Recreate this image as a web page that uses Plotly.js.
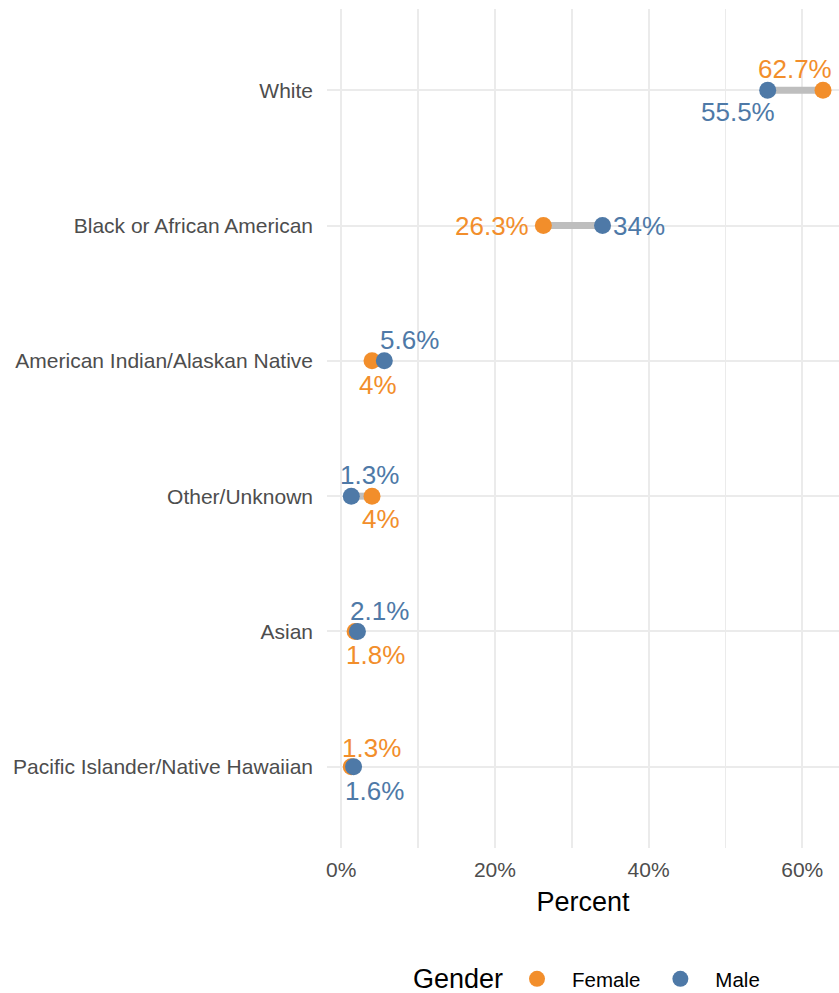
<!DOCTYPE html>
<html>
<head>
<meta charset="utf-8">
<script src="https://cdn.plot.ly/plotly-3.0.1.min.js"></script>
<style>html,body{margin:0;padding:0;background:#fff;}#chart{width:839px;height:993px;}</style>
</head>
<body>
<div id="chart"></div>
<script>
// Data (top to bottom)
const categories = ["White", "Black or African American", "American Indian/Alaskan Native", "Other/Unknown", "Asian", "Pacific Islander/Native Hawaiian"];
const female = [62.7, 26.3, 4, 4, 1.8, 1.3];
const male = [55.5, 34, 5.6, 1.3, 2.1, 1.6];
const femaleLabels = ["62.7%", "26.3%", "4%", "4%", "1.8%", "1.3%"];
const maleLabels = ["55.5%", "34%", "5.6%", "1.3%", "2.1%", "1.6%"];
const xTickVals = [0, 20, 40, 60];
const xTickText = ["0%", "20%", "40%", "60%"];
const legendTitle = "Gender";

// label offsets in px (position styling)
const femaleOffsets = [[-28, 21], [-51, 0], [6, -24], [9, -23], [20, -24], [20, 19]];
const maleOffsets = [[-30, -22], [36, 0], [25, 21], [18, 21], [22, 20], [21, -24]];

const ORANGE = "#F28E2B", BLUE = "#4E79A7";
const FONT = "Liberation Sans, Arial, sans-serif";

const segX = [], segY = [];
categories.forEach((c, i) => { segX.push(female[i], male[i], null); segY.push(c, c, null); });

const traces = [
  {x: segX, y: segY, type: "scatter", mode: "lines", line: {color: "#BEBEBE", width: 7}, showlegend: false, hoverinfo: "skip"},
  {x: female, y: categories, type: "scatter", mode: "markers", name: "Female", marker: {color: ORANGE, size: 17}},
  {x: male, y: categories, type: "scatter", mode: "markers", name: "Male", marker: {color: BLUE, size: 17}}
];

const annotations = [];
categories.forEach((c, i) => {
  annotations.push({x: female[i], y: c, xref: "x", yref: "y", text: femaleLabels[i], showarrow: false,
    xshift: femaleOffsets[i][0], yshift: femaleOffsets[i][1], font: {family: FONT, size: 26, color: ORANGE}});
  annotations.push({x: male[i], y: c, xref: "x", yref: "y", text: maleLabels[i], showarrow: false,
    xshift: maleOffsets[i][0], yshift: maleOffsets[i][1], font: {family: FONT, size: 26, color: BLUE}});
});
annotations.push({x: 0.2568, y: -0.1561, xref: "paper", yref: "paper", xanchor: "center", yanchor: "middle",
  text: legendTitle, showarrow: false, font: {family: FONT, size: 27, color: "#000"}});

const layout = {
  width: 839, height: 993,
  margin: {l: 327, r: 0, t: 9, b: 145, autoexpand: false},
  paper_bgcolor: "#fff", plot_bgcolor: "#fff",
  font: {family: FONT, size: 21, color: "#4D4D4D"},
  xaxis: {
    range: [-1.86, 64.78], tickvals: xTickVals, ticktext: xTickText,
    showgrid: true, gridcolor: "#EBEBEB", gridwidth: 2, zeroline: false, showline: false, ticks: "",
    tickfont: {family: FONT, size: 21, color: "#4D4D4D"}, ticklabelstandoff: 7,
    minor: {tickvals: [10, 30, 50], showgrid: true, gridcolor: "#EBEBEB", gridwidth: 1.5},
    title: {text: "Percent", font: {family: FONT, size: 27, color: "#000"}, standoff: 12},
    fixedrange: true
  },
  yaxis: {
    type: "category", categoryorder: "array", categoryarray: categories.slice().reverse(),
    range: [-0.6, 5.6], showgrid: true, gridcolor: "#EBEBEB", gridwidth: 2, zeroline: false, showline: false, ticks: "",
    tickfont: {family: FONT, size: 21, color: "#4D4D4D"}, ticklabelstandoff: 13,
    fixedrange: true
  },
  showlegend: true,
  legend: {
    orientation: "h", x: 0.3418, xanchor: "left", y: -0.1561, yanchor: "middle",
    itemwidth: 60,
    font: {family: FONT, size: 20.5, color: "#000"}
  },
  annotations: annotations
};

Plotly.newPlot("chart", traces, layout, {displayModeBar: false, staticPlot: true});
</script>
</body>
</html>
